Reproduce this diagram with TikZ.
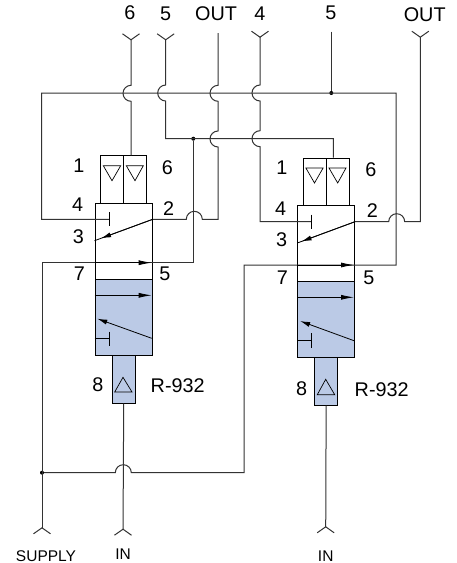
\documentclass[tikz,border=0pt]{standalone}
\usepackage{fontspec}
\setmainfont{Liberation Sans}
\usetikzlibrary{arrows.meta}
\definecolor{valveblue}{HTML}{BBCAE6}
\tikzstyle{wire} = [draw=black!80, line width=1pt]
\tikzstyle{portwire} = [wire, -{Straight Barb[reversed,length=6pt,width=17pt]}]
\tikzstyle{valve} = [rectangle, draw=black, line width=1pt, anchor=north west, inner sep=0pt]
\tikzstyle{bluevalve} = [valve, fill=valveblue]
\tikzstyle{inner} = [draw=black, line width=0.8pt]
\tikzstyle{flowlong} = [inner, -{Latex[length=13pt,width=5pt]}]
\tikzstyle{flowshort} = [inner, -{Latex[length=10pt,width=5pt]}]
\tikzstyle{tri} = [draw=black, line width=0.7pt]
\tikzstyle{dot} = [circle, fill=black, inner sep=0pt, minimum size=4pt]
\tikzstyle{label} = [font=\fontsize{19.8pt}{21pt}\selectfont, inner sep=0pt]
\tikzstyle{smalllabel} = [font=\fontsize{15.5pt}{17pt}\selectfont, inner sep=0pt]

\begin{document}
\begin{tikzpicture}[x=1pt, y=-1pt]
	\useasboundingbox (0,0) rectangle (456,563);
	\node[valve, minimum width=57.2pt, minimum height=76.3pt] (bodyA) at (94.5,202.7) {};
	\node[bluevalve, minimum width=57.2pt, minimum height=76.3pt] (blueA) at (94.5,279) {};
	\node[valve, minimum width=23pt, minimum height=47.4pt] (solAleft) at (100,155.3) {};
	\node[valve, minimum width=23pt, minimum height=47.4pt] (solAright) at (123,155.3) {};
	\node[bluevalve, minimum width=23pt, minimum height=47.4pt] (pilotA) at (111.7,355.3) {};
	\node[valve, minimum width=56.7pt, minimum height=76pt] (bodyB) at (297.3,205) {};
	\node[bluevalve, minimum width=56.7pt, minimum height=76.3pt] (blueB) at (297.3,281) {};
	\node[valve, minimum width=23pt, minimum height=47.3pt] (solBleft) at (302.7,157.7) {};
	\node[valve, minimum width=23pt, minimum height=47.3pt] (solBright) at (325.7,157.7) {};
	\node[bluevalve, minimum width=23.3pt, minimum height=47.4pt] (pilotB) at (314,357.3) {};
	\coordinate (stopA) at (109,219.3);
	\coordinate (portAtwo) at (bodyA.east |- stopA);
	\coordinate (portAthree) at (94.5,240.7);
	\coordinate (portAseven) at (94.5,262.7);
	\coordinate (portAfive) at (151.7,262.7);
	\coordinate (stopB) at (311.7,221.7);
	\coordinate (portBtwo) at (bodyB.east |- stopB);
	\coordinate (portBthree) at (297.3,243);
	\coordinate (portBseven) at (297.3,265);
	\coordinate (portBfive) at (354,265);
	\coordinate (cornerbusL) at (41.7,93);
	\coordinate (cornerbusR) at (396,93);
	\coordinate (cornerA) at (41.7,219.3);
	\coordinate (cornerBsup) at (396,265);
	\coordinate (cornerC) at (244,265);
	\coordinate (cornerD) at (244,472.7);
	\coordinate (cornerE) at (42,262.7);
	\coordinate (cornerF) at (193.3,262.7);
	\coordinate (cornerG) at (218,219.3);
	\coordinate (cornerH) at (260,221.7);
	\coordinate (cornerI) at (420.3,221.7);
	\coordinate (cornerJ) at (165.7,138.7);
	\coordinate (cornerK) at (333.3,138.7);
	\coordinate (portsix) at (131,33.3);
	\coordinate (portfive) at (165.7,33.3);
	\coordinate (portout) at (218,33);
	\coordinate (portfour) at (260,30.7);
	\coordinate (portfiveB) at (331.3,31.7);
	\coordinate (portoutB) at (420.3,30.7);
	\coordinate (portsupply) at (42,534.3);
	\coordinate (portinA) at (123,535.7);
	\coordinate (portinB) at (325.7,533.3);
	\node[dot] (dotbus) at (331.3,93) {};
	\node[dot] (dotmid) at (193.3,138.7) {};
	\node[dot] (dotsupply) at (42,472.7) {};
	\draw[wire] (stopA) -- (cornerA) -- (cornerbusL) -- (cornerbusR) -- (cornerBsup) -- (cornerC) -- (cornerD) -- ++(-112.7,0) arc (0:180:8pt) -- (dotsupply);
	\draw[portwire] (solAright.north -| portsix) -- ++(0,-54) arc (270:90:8pt) -- (portsix);
	\draw[portwire] (cornerK |- solBright.north) -- (cornerK) -- (cornerJ) -- ++(0,-37.7) arc (270:90:8pt) -- (portfive);
	\draw[wire] (portAtwo) -- ++(33.6,0) arc (180:0:8pt) -- (cornerG) -- ++(0,-72.3) arc (270:90:8pt) -- ++(0,-29.7) arc (270:90:8pt) -- (portout);
	\draw[portwire] (dotmid) -- (cornerF) -- (cornerE) -- (portsupply);
	\draw[portwire] (stopB) -- (cornerH) -- ++(0,-75) arc (270:90:8pt) -- ++(0,-29.7) arc (270:90:8pt) -- (portfour);
	\draw[wire] (portfiveB) -- (dotbus);
	\draw[portwire] (portBtwo) -- ++(33.7,0) arc (180:0:8pt) -- (cornerI) -- (portoutB);
	\draw[portwire] (pilotA.south) -- (portinA);
	\draw[portwire] (pilotB.south) -- (portinB);
	\draw[inner] (portAtwo) -- (portAthree);
	\draw[flowshort, shorten >=7pt] (portAtwo) -- (portAthree);
	\draw[flowlong] (portAseven) -- (portAfive);
	\draw[inner] (stopA) ++(0,-7) -- ++(0,14);
	\draw[flowlong] (94.5,295.3) -- (151.7,295.3);
	\draw[flowshort, shorten >=3pt] (151.7,338.3) -- (94.5,317.7);
	\draw[inner] (94.5,338.3) -- (109,338.3);
	\draw[inner] (109,331.7) -- (109,346);
	\draw[inner] (portBtwo) -- (portBthree);
	\draw[flowshort, shorten >=4.5pt] (portBtwo) -- (portBthree);
	\draw[flowlong] (portBseven) -- (portBfive);
	\draw[inner] (stopB) ++(0,-7) -- ++(0,14);
	\draw[flowlong] (297.3,297.3) -- (354,297.3);
	\draw[flowshort, shorten >=3pt] (354,340.7) -- (297.3,320);
	\draw[inner] (297.3,340.7) -- (311.7,340.7);
	\draw[inner] (311.7,333.3) -- (311.7,347.7);
	\draw[tri] (103.3,165.7) -- (120.7,165.7) -- (112,180.7) -- cycle;
	\draw[tri] (126.3,165.7) -- (143.3,165.7) -- (135,180.7) -- cycle;
	\draw[tri] (123,377.3) -- (132,392) -- (114.7,392) -- cycle;
	\draw[tri] (305.9,168) -- (323.1,168) -- (314.5,183) -- cycle;
	\draw[tri] (329,168) -- (346,168) -- (337.7,183) -- cycle;
	\draw[tri] (325.7,379.3) -- (334.7,394.7) -- (317.3,394.7) -- cycle;
	\node[label] (lblsix) at (130,12.3) {6};
	\node[label] (lblfive) at (165.7,13.3) {5};
	\node[label] (lblout) at (216,13.3) {OUT};
	\node[label] (lblfour) at (260,13.3) {4};
	\node[label] (lblfiveB) at (331,12.3) {5};
	\node[label] (lbloutB) at (424.7,15) {OUT};
	\node[label] (lblAone) at (79,165.7) {1};
	\node[label] (lblAsix) at (167.3,167.7) {6};
	\node[label] (lblAfour) at (77.7,205) {4};
	\node[label] (lblAtwo) at (168.7,208.3) {2};
	\node[label] (lblAthree) at (78.3,236.7) {3};
	\node[label] (lblAseven) at (79.3,274) {7};
	\node[label] (lblAfive) at (165,273.3) {5};
	\node[label] (lblAeight) at (98,385) {8};
	\node[label] (lblAname) at (177.7,386) {R-932};
	\node[label] (lblBone) at (282,168) {1};
	\node[label] (lblBsix) at (371,170) {6};
	\node[label] (lblBfour) at (280.7,208.3) {4};
	\node[label] (lblBtwo) at (372.3,211) {2};
	\node[label] (lblBthree) at (281.7,240) {3};
	\node[label] (lblBseven) at (282.3,277.7) {7};
	\node[label] (lblBfive) at (369,278) {5};
	\node[label] (lblBeight) at (301.7,388.3) {8};
	\node[label] (lblBname) at (381.7,390) {R-932};
	\node[smalllabel] (lblsupply) at (46,555.7) {SUPPLY};
	\node[smalllabel] (lblinA) at (123,554.3) {IN};
	\node[smalllabel] (lblinB) at (325.7,555.7) {IN};
\end{tikzpicture}
\end{document}
